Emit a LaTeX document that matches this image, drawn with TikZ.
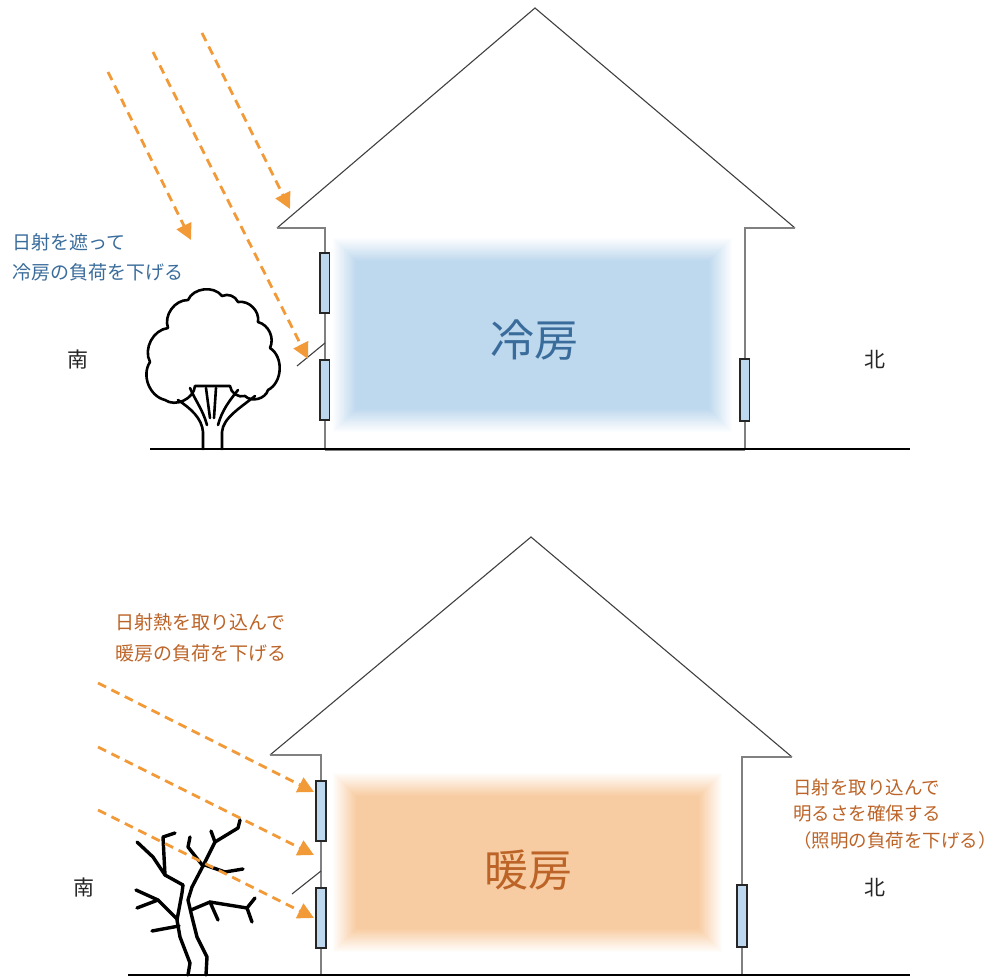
\documentclass[tikz,border=0pt]{standalone}
\usepackage{fontspec}
\newfontfamily\jp{Noto Sans CJK JP}
\usetikzlibrary{arrows.meta,calc}

\definecolor{sun}{RGB}{242,154,56}
\definecolor{glass}{RGB}{189,215,238}
\definecolor{coolfill}{RGB}{190,216,238}
\definecolor{warmfill}{RGB}{248,204,162}
\definecolor{coolink}{RGB}{58,108,155}
\definecolor{warmink}{RGB}{188,100,40}
\definecolor{roofline}{RGB}{64,64,64}
\definecolor{wallline}{RGB}{128,128,128}

% soft-edged room fill: colour, x1, y1, x2, y2 (inner full-colour box);
% stacked layers give a linear fade over 24 units outside it
\newcommand\softfill[5]{%
  \foreach \k in {1,...,24}{%
    \pgfmathsetmacro\grow{24-\k}%
    \pgfmathsetmacro\alph{1/(\grow+1)}%
    \fill[#1,opacity=\alph] (#2-\grow,#3-\grow) rectangle (#4+\grow,#5+\grow);}%
}

\begin{document}
\begin{tikzpicture}[x=1pt,y=-1pt,
  roof/.style={draw=roofline, line width=1.1},
  wall/.style={draw=wallline, line width=1.6},
  ground/.style={draw=black, line width=1.4},
  pane/.style={draw=black!85, line width=1.2, fill=glass},
  ray/.style={draw=sun, line width=2.8, dash pattern=on 9 off 6, -{Triangle[length=16,width=16]}},
  awning/.style={draw=roofline, line width=1.1},
  treeline/.style={draw=black, line width=2.6, line cap=round, line join=round},
  twig/.style={draw=black, line width=3.4, line cap=round, line join=round},
  note/.style={font=\jp\fontsize{19}{19}\selectfont, inner sep=0pt, anchor=base west},
  compass/.style={font=\jp\fontsize{21}{21}\selectfont, text=black!85, inner sep=0pt},
  room/.style={font=\jp\fontsize{44}{44}\selectfont, inner sep=0pt}]
\useasboundingbox (0,0) rectangle (997,979);

% ---------------- upper house: cooling ----------------
\coordinate (tA) at (535,8);
\coordinate (tEL) at (277,228);
\coordinate (tWL) at (325,228);
\coordinate (tFL) at (325,449);
\coordinate (tER) at (795,228);
\coordinate (tWR) at (745,228);
\coordinate (tFR) at (745,449);

\softfill{coolfill}{356}{261}{709}{409}

\draw[roof] (tEL) -- (tA) -- (tER);
\draw[wall] (tEL) -- (tWL) -- (tFL);
\draw[wall] (tER) -- (tWR) -- (tFR);
\draw[wall] ($(tFL)+(0,1.5)$) -- ($(tFR)+(0,1.5)$);
\draw[ground] (150,449) -- (910,449);

\draw[pane] (320,253) rectangle (329.5,313);
\draw[pane] (320,360) rectangle (329.5,420);
\draw[pane] (740,359) rectangle (749.5,421);
\coordinate (tAw1) at (297,366);
\coordinate (tAw2) at (325,343);
\draw[awning] (tAw1) -- (tAw2);

\node[room, text=coolink] (coolroom) at (534,340) {冷房};

% tree in leaf
\draw[treeline, fill=white] (165,400) to[bend left=55] (150,362) to[bend left=55] (168,328)
  to[bend left=55] (188,300) to[bend left=60] (222,296) to[bend left=45] (238,302)
  to[bend left=55] (258,322) to[bend left=50] (270,348) to[bend left=60] (268,390)
  to[bend left=60] (245,396) to[bend left=50] (230,386) -- (195,386)
  to[bend left=60] (165,400) -- cycle;
\draw[treeline] (203,449) -- (203,432) .. controls (202,418) and (190,408) .. (178,400);
\draw[treeline] (222,449) -- (222,432) .. controls (223,418) and (240,408) .. (255,396);
\draw[treeline] (207,425) .. controls (203,410) and (195,400) .. (190,388);
\draw[treeline] (210,418) -- (206,388);
\draw[treeline] (214,418) -- (216,388);
\draw[treeline] (218,425) .. controls (222,410) and (230,400) .. (238,390);

% summer sun rays
\coordinate (s1a) at (108,72);  \coordinate (s1b) at (191,240);
\coordinate (s2a) at (153,52);  \coordinate (s2b) at (308,359);
\coordinate (s3a) at (202,33);  \coordinate (s3b) at (290,209);
\draw[ray] (s1a) -- (s1b);
\draw[ray] (s2a) -- (s2b);
\draw[ray] (s3a) -- (s3b);

\node[note, text=coolink] (cool1) at (12,250) {日射を遮って};
\node[note, text=coolink] (cool2) at (12,279) {冷房の負荷を下げる};

\node[compass] (south1) at (78,360) {南};
\node[compass] (north1) at (875,360) {北};

% ---------------- lower house: heating ----------------
\coordinate (bA) at (531,537);
\coordinate (bEL) at (270,755);
\coordinate (bWL) at (321,755);
\coordinate (bFL) at (321,975);
\coordinate (bER) at (792,757);
\coordinate (bWR) at (742,757);
\coordinate (bFR) at (742,975);

\softfill{warmfill}{356}{796}{699}{929}

\draw[roof] (bEL) -- (bA) -- (bER);
\draw[wall] (bEL) -- (bWL) -- (bFL);
\draw[wall] (bER) -- (bWR) -- (bFR);
\draw[ground] (128,975) -- (910,975);

\draw[pane] (316,781) rectangle (326,841);
\draw[pane] (316,888) rectangle (326,948);
\draw[pane] (737,885) rectangle (747,947);
\coordinate (bAw1) at (292,894);
\coordinate (bAw2) at (321,871);
\draw[awning] (bAw1) -- (bAw2);

\node[room, text=warmink] (warmroom) at (528,870) {暖房};

% bare winter tree
\draw[twig] (188,975) -- (190,963) -- (180,937) -- (177,920) -- (182,893) -- (183,885);
\draw[twig] (206,975) -- (207,957) -- (197,937) -- (192,917) -- (188,900) -- (192,887) -- (203,866);
\draw[twig] (183,885) -- (165,875) -- (153,857) -- (137,842);
\draw[twig] (165,875) -- (163,837) -- (175,833);
\draw[twig] (203,866) -- (188,847) -- (190,837);
\draw[twig] (203,866) -- (215,842) -- (211,831);
\draw[twig] (215,842) -- (238,828) -- (240,820);
\draw[twig] (205,865) -- (225,872) -- (243,869);
\draw[twig] (177,919) -- (158,900) -- (136,890);
\draw[twig] (158,900) -- (137,908);
\draw[twig] (179,926) -- (152,931);
\draw[twig] (191,910) -- (210,902) -- (247,908) -- (255,898);
\draw[twig] (247,908) -- (252,922);
\draw[twig] (210,902) -- (218,920);

% winter sun rays
\coordinate (w1a) at (98,683);  \coordinate (w1b) at (314,792);
\coordinate (w2a) at (98,747);  \coordinate (w2b) at (314,855);
\coordinate (w3a) at (98,810);  \coordinate (w3b) at (314,918);
\draw[ray] (w1a) -- (w1b);
\draw[ray] (w2a) -- (w2b);
\draw[ray] (w3a) -- (w3b);

\node[note, text=warmink] (warm1) at (115,629) {日射熱を取り込んで};
\node[note, text=warmink] (warm2) at (115,660) {暖房の負荷を下げる};

\node[note, text=warmink, font=\jp\fontsize{18.5}{18.5}\selectfont] (light1) at (793,794) {日射を取り込んで};
\node[note, text=warmink, font=\jp\fontsize{18.5}{18.5}\selectfont] (light2) at (793,820) {明るさを確保する};
\node[note, text=warmink, font=\jp\fontsize{18.5}{18.5}\selectfont] (light3) at (793,847) {（照明の負荷を下げる）};

\node[compass] (south2) at (84,888) {南};
\node[compass] (north2) at (875,888) {北};
\end{tikzpicture}
\end{document}
